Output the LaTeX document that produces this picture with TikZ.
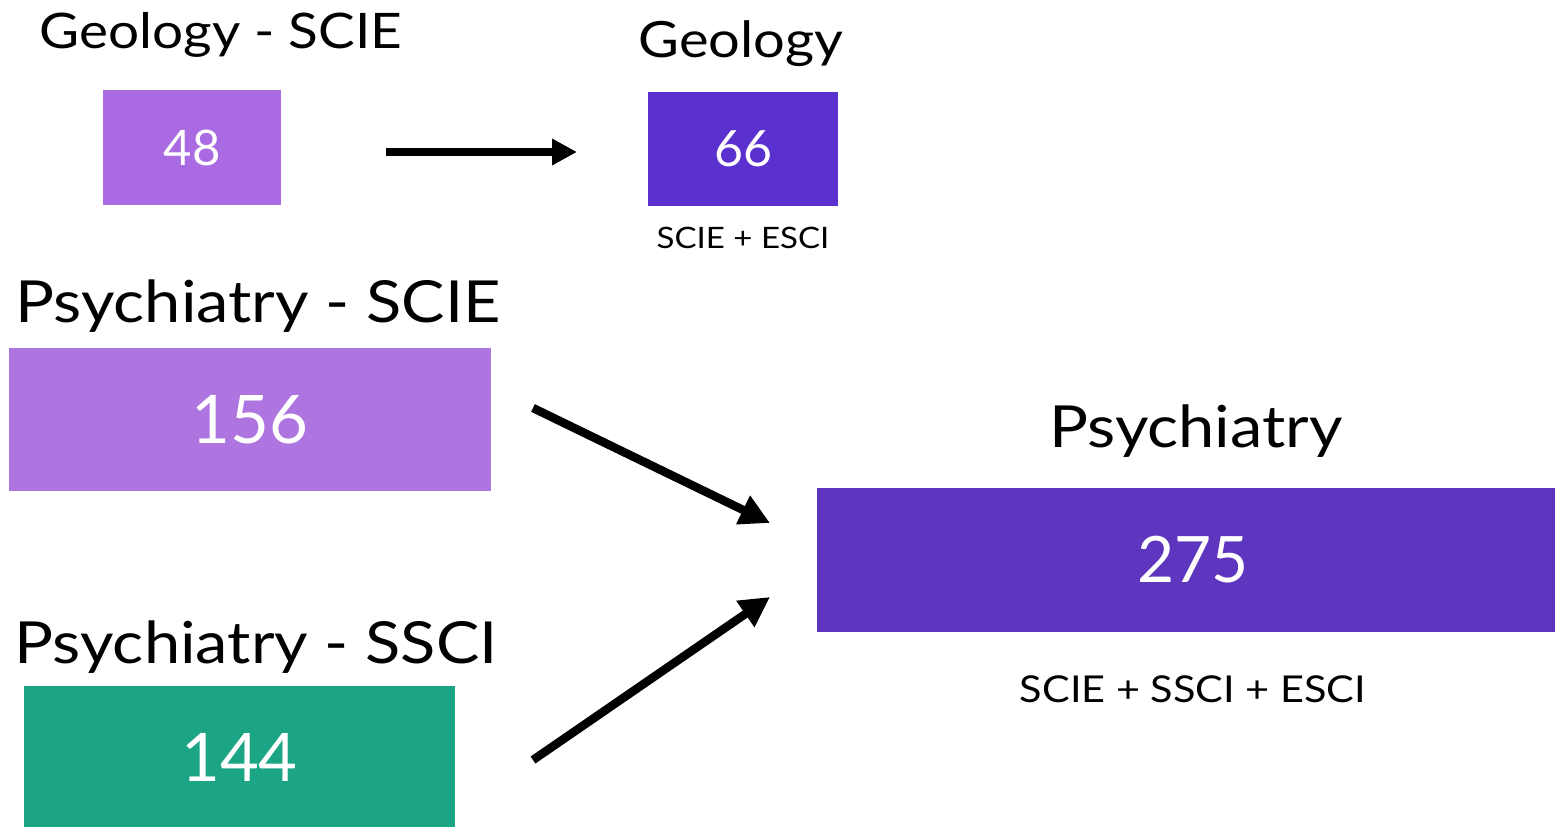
\documentclass[tikz,border=0pt]{standalone}
\usepackage{fontspec}
\setmainfont{Lato}
\newfontfamily\titlefont[FakeStretch=1.12]{Lato}
\usepackage{xcolor}
\usepackage{tikz}
\usetikzlibrary{arrows.meta, positioning, calc}
\definecolor{lilac}{HTML}{AE75E0}
\definecolor{lilacgeo}{HTML}{A96AE2}
\definecolor{indigo}{HTML}{5E35BE}
\definecolor{indigogeo}{HTML}{5A30CF}
\definecolor{jade}{HTML}{1BA584}

\newcommand{\fsz}[1]{\fontsize{#1}{#1}\selectfont}
\newcommand{\tsz}[1]{\titlefont\fontsize{#1}{#1}\selectfont}

\begin{document}
\begin{tikzpicture}[x=1pt, y=-1pt,
    every node/.style={inner sep=0pt, outer sep=0pt},
    title/.style={anchor=base, text=black},
    countbox/.style={text=white, minimum width=#1},
    bigarrow/.style={line width=8.5pt, -{Triangle[length=30pt, width=30pt]}},
    smallarrow/.style={line width=7.5pt, -{Triangle[length=25pt, width=25pt]}}]
      \useasboundingbox (0,0) rectangle (1555,827);

      % geology, top row
      \node[title, font=\tsz{49}] (tgeosc) at (221,48) {Geology - SCIE};
      \node[countbox=178pt, fill=lilacgeo, minimum height=115pt, font=\fsz{49}]
            (geosc) at (192,147.5) {48};
      \node[title, font=\tsz{50}] (tgeo) at (741,57) {Geology};
      \node[countbox=190pt, fill=indigogeo, minimum height=114pt, font=\fsz{50}]
            (geo) at (743,149) {66};
      \node[title, font=\tsz{29.5}] (cgeo) at (743,248) {SCIE + ESCI};

      % psychiatry, left column
      \node[title, font=\tsz{58}] (tpsysc) at (258,322) {Psychiatry - SCIE};
      \node[countbox=482pt, fill=lilac, minimum height=143pt, font=\fsz{67}]
            (psysc) at (250,419.5) {156};
      \node[title, font=\tsz{58}] (tpsyss) at (256,663) {Psychiatry - SSCI};
      \node[countbox=431pt, fill=jade, minimum height=143pt, font=\fsz{67}]
            (psyss) at (239.5,757.5) {144};

      % psychiatry, merged
      \node[title, font=\tsz{58}] (tpsy) at (1196,447) {Psychiatry};
      \node[countbox=752pt, fill=indigo, minimum height=144pt, font=\fsz{64}]
            (psy) at (1193,560) {275};
      \node[title, font=\tsz{37}] (cpsy) at (1193,702) {SCIE + SSCI + ESCI};

      \draw[smallarrow] ($(geosc.east)+(105,4.5)$) -- ($(geo.west)+(-71,3)$);
      \draw[bigarrow] ($(psysc.east)+(42,-11.5)$) -- ($(psy.west)+(-47,-37)$);
      \draw[bigarrow] ($(psyss.east)+(78,2.5)$) -- ($(psy.west)+(-47,37)$);
    \end{tikzpicture}
\end{document}
